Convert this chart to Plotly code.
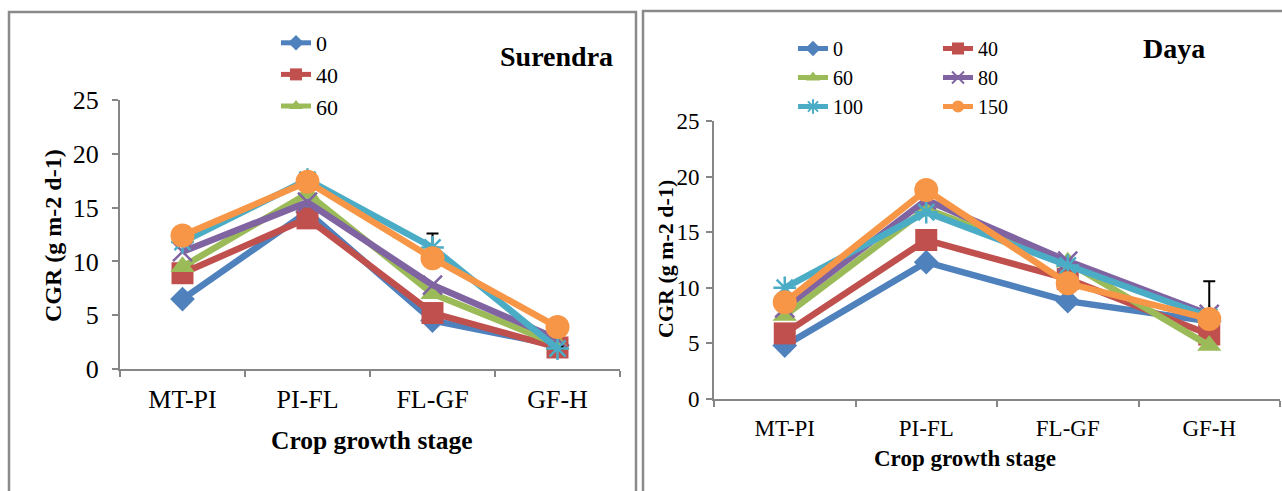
import plotly.graph_objects as go

stages = ["MT-PI", "PI-FL", "FL-GF", "GF-H"]
series_names = ["0", "40", "60", "80", "100", "150"]

surendra_0 = [6.5, 14.6, 4.5, 2.2]
surendra_40 = [8.9, 14.0, 5.2, 2.0]
surendra_60 = [9.5, 16.3, 7.0, 2.3]
surendra_80 = [10.9, 15.5, 7.8, 2.8]
surendra_100 = [11.8, 17.6, 11.3, 1.9]
surendra_150 = [12.4, 17.4, 10.3, 3.9]

daya_0 = [4.8, 12.3, 8.8, 7.0]
daya_40 = [5.9, 14.3, 10.8, 5.8]
daya_60 = [7.5, 17.1, 12.3, 4.8]
daya_80 = [8.2, 17.9, 12.4, 7.6]
daya_100 = [10.0, 16.8, 12.0, 7.4]
daya_150 = [8.7, 18.8, 10.4, 7.2]

surendra_err_100 = [0.4, 0.4, 1.3, 0.2]
daya_err_150 = [0.3, 0.6, 0.2, 3.4]

colors = ["#4F81BD", "#C0504D", "#9BBB59", "#8064A2", "#4BACC6", "#F79646"]
symbols = ["diamond", "square", "triangle-up", "x-thin-open", "asterisk-open", "circle"]
msizes = [19, 22, 21, 19, 19, 24]

W, H = 1282, 491
def px(x):
    return x / W
def py(y):
    return (H - y) / H

surendra = [surendra_0, surendra_40, surendra_60, surendra_80, surendra_100, surendra_150]
daya = [daya_0, daya_40, daya_60, daya_80, daya_100, daya_150]

fig = go.Figure()

def marker_for(i):
    m = dict(symbol=symbols[i], size=msizes[i], color=colors[i])
    if "open" in symbols[i]:
        m["line"] = dict(color=colors[i], width=2.5)
    return m

for i, name in enumerate(series_names):
    err = None
    if name == "100":
        err = dict(type="data", array=surendra_err_100, arrayminus=[0, 0, 0, 0],
                   color="black", thickness=2, width=6)
    fig.add_trace(go.Scatter(
        x=stages, y=surendra[i], name=name, mode="lines+markers",
        line=dict(color=colors[i], width=6.5), marker=marker_for(i),
        error_y=err, xaxis="x", yaxis="y",
        showlegend=name in ("0", "40", "60"), legend="legend"))

right_legend = {"0": "legend2", "60": "legend2", "100": "legend2",
                "40": "legend3", "80": "legend3", "150": "legend3"}
for i, name in enumerate(series_names):
    err = None
    if name == "150":
        err = dict(type="data", array=daya_err_150, arrayminus=[0, 0, 0, 0],
                   color="black", thickness=2, width=6)
    fig.add_trace(go.Scatter(
        x=stages, y=daya[i], name=name, mode="lines+markers",
        line=dict(color=colors[i], width=6.5), marker=marker_for(i),
        error_y=err, xaxis="x2", yaxis="y2",
        showlegend=True, legend=right_legend[name]))

axis_grey = "#868686"
serif = "Liberation Serif, Times New Roman, serif"

def xaxis_cfg(domain, fs, standoff):
    return dict(domain=domain, type="category", range=[-0.5, 3.5],
                showline=True, linecolor=axis_grey, linewidth=2,
                ticks="outside", tickcolor=axis_grey, ticklen=6, tickwidth=2,
                tickson="boundaries", showgrid=False, zeroline=False,
                ticklabelstandoff=standoff,
                tickfont=dict(family=serif, size=fs, color="black"),
                automargin=False, fixedrange=True)

def yaxis_cfg(domain, anchor, fs, standoff):
    return dict(domain=domain, anchor=anchor, range=[0, 25], dtick=5,
                showline=True, linecolor=axis_grey, linewidth=2,
                ticks="outside", tickcolor=axis_grey, ticklen=6, tickwidth=2,
                showgrid=False, zeroline=False,
                ticklabelstandoff=standoff,
                tickfont=dict(family=serif, size=fs, color="black"),
                automargin=False, fixedrange=True)

legend_common = dict(bgcolor="rgba(0,0,0,0)", itemsizing="constant",
                     traceorder="normal", yanchor="top", xanchor="left")

def ann(text, x, y, size, angle=0):
    return dict(text=text, x=px(x), y=py(y), xref="paper", yref="paper",
                xanchor="center", yanchor="middle", textangle=angle,
                showarrow=False, font=dict(family=serif, size=size, color="black"))

fig.update_layout(
    width=W, height=H,
    margin=dict(l=0, r=0, t=0, b=0, pad=0, autoexpand=False),
    paper_bgcolor="white", plot_bgcolor="white",
    xaxis=dict(xaxis_cfg([px(120), px(620)], 26, 6), anchor="y"),
    yaxis=yaxis_cfg([py(369), py(100)], "x", 26, 8),
    xaxis2=dict(xaxis_cfg([px(714), px(1280)], 23, 7), anchor="y2"),
    yaxis2=yaxis_cfg([py(399), py(121)], "x2", 23, 2),
    legend=dict(legend_common, x=px(276), y=py(22),
                font=dict(family=serif, size=22, color="black")),
    legend2=dict(legend_common, x=px(793), y=py(29),
                 font=dict(family=serif, size=20, color="black")),
    legend3=dict(legend_common, x=px(938), y=py(29),
                 font=dict(family=serif, size=20, color="black")),
    shapes=[
        dict(type="rect", xref="paper", yref="paper", x0=px(9), x1=px(636),
             y0=-0.2, y1=py(12), line=dict(color="#8a8a8a", width=2.5)),
        dict(type="rect", xref="paper", yref="paper", x0=px(643), x1=1.2,
             y0=-0.2, y1=py(11), line=dict(color="#8a8a8a", width=2.5)),
    ],
    annotations=[
        ann("<b>Surendra</b>", 556, 57, 28),
        ann("<b>Daya</b>", 1174, 48, 28),
        ann("<b>CGR (g m-2 d-1)</b>", 53, 236, 24, -90),
        ann("<b>CGR (g m-2 d-1)</b>", 665, 259, 22, -90),
        ann("<b>Crop growth stage</b>", 372, 440, 25.5),
        ann("<b>Crop growth stage</b>", 965, 458, 23),
    ],
)

fig.write_html("out.html", config={"displayModeBar": False},
               post_script="document.body.style.margin='0px';")
